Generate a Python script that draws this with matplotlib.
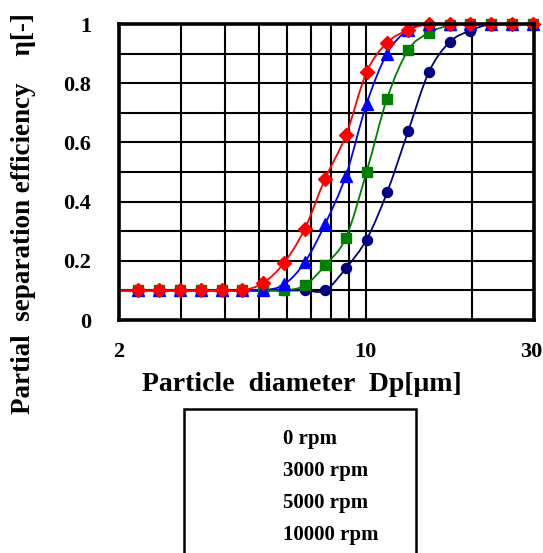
import matplotlib.pyplot as plt
from matplotlib.path import Path
from matplotlib.patches import PathPatch, Rectangle
from matplotlib.transforms import ScaledTranslation
import numpy as np

plt.rcParams['font.family'] = ['Liberation Serif', 'DejaVu Serif']
plt.rcParams['font.weight'] = 'bold'

# particle diameter [um] (first point lies just left of the axis)
dp = [1.98, 2.27, 2.60, 2.98, 3.41, 3.91, 4.47, 5.12, 5.87, 6.72, 7.68,
      8.79, 10.06, 11.5, 13.2, 15.1, 17.3, 19.8, 22.7, 26.0, 29.8]

labels = ['0 rpm', '3000 rpm', '5000 rpm', '10000 rpm']

eta_0 = [0.1, 0.1, 0.1, 0.1, 0.1, 0.1, 0.1, 0.1, 0.1, 0.1, 0.1,
         0.175, 0.272, 0.431, 0.638, 0.837, 0.939, 0.978, 1.0, 1.0, 1.0]
eta_3000 = [0.1, 0.1, 0.1, 0.1, 0.1, 0.1, 0.1, 0.1, 0.1, 0.117, 0.185,
            0.278, 0.5, 0.748, 0.912, 0.97, 0.995, 1.0, 1.0, 1.0, 1.0]
eta_5000 = [0.1, 0.1, 0.1, 0.1, 0.1, 0.1, 0.1, 0.1, 0.12, 0.195, 0.325,
            0.488, 0.73, 0.90, 0.98, 1.0, 1.0, 1.0, 1.0, 1.0, 1.0]
eta_10000 = [0.1, 0.1, 0.1, 0.1, 0.1, 0.1, 0.1, 0.125, 0.193, 0.308, 0.478,
             0.624, 0.837, 0.937, 0.98, 1.0, 1.0, 1.0, 1.0, 1.0, 1.0]

series = [eta_0, eta_3000, eta_5000, eta_10000]
colors = ['#000080', '#008000', '#0000FF', '#FF0000']
markers = ['o', 's', '^', 'D']
msizes = [7.2, 6.8, 8.0, 7.0]


def smooth_path(x, y):
    # excel-like smoothed line: cubic bezier through the points (in log-x space)
    lx = np.log10(x)
    y = np.asarray(y, float)
    n = len(lx)
    verts = [(x[0], y[0])]
    codes = [Path.MOVETO]
    for i in range(n - 1):
        i0 = max(i - 1, 0)
        i3 = min(i + 2, n - 1)
        c1 = (lx[i] + (lx[i + 1] - lx[i0]) / 6, y[i] + (y[i + 1] - y[i0]) / 6)
        c2 = (lx[i + 1] - (lx[i3] - lx[i]) / 6, y[i + 1] - (y[i3] - y[i]) / 6)
        verts += [(10 ** c1[0], c1[1]), (10 ** c2[0], c2[1]), (x[i + 1], y[i + 1])]
        codes += [Path.CURVE4] * 3
    return Path(verts, codes)


fig = plt.figure(figsize=(5.43, 5.53), dpi=100)
ax = fig.add_axes([0.2192, 0.4213, 0.7642, 0.5353])
ax.set_xscale('log')

handles = []
for eta, c, m, ms, lab in zip(series, colors, markers, msizes, labels):
    ax.add_patch(PathPatch(smooth_path(dp, eta), fill=False, edgecolor=c, lw=1.3, zorder=3))
    h, = ax.plot(dp[1:], eta[1:], ls='none', marker=m, ms=ms, color=c,
                 mec=c, zorder=4, label=lab, clip_on=False)
    handles.append(h)

ax.set_xlim(2, 30)
ax.set_ylim(0, 1)

xt = [2, 3, 4, 5, 6, 7, 8, 9, 10, 20, 30]
ax.set_xticks(xt)
ax.set_xticklabels(['2', '', '', '', '', '', '', '', '10', '', '30'])
ax.minorticks_off()
yt = [0, 0.1, 0.2, 0.3, 0.4, 0.5, 0.6, 0.7, 0.8, 0.9, 1.0]
ax.set_yticks(yt)
ax.set_yticklabels(['0', '', '0.2', '', '0.4', '', '0.6', '', '0.8', '', '1'])
ax.tick_params(axis='both', length=0, labelsize=16)
ax.tick_params(axis='x', pad=16)
ax.tick_params(axis='y', pad=20)
ax.grid(True, color='black', lw=1.5)
ax.set_axisbelow(True)
for s in ax.spines.values():
    s.set_linewidth(2.6)
    s.set_zorder(5)

# keep the "30" label inside the picture
last = ax.get_xticklabels()[-1]
last.set_transform(last.get_transform() + ScaledTranslation(-3 / 100, 0, fig.dpi_scale_trans))

ax.set_xlabel('Particle  diameter  Dp[μm]', fontsize=20, fontweight='bold')
ax.xaxis.set_label_coords(0.44, -0.175)
ax.set_ylabel('Partial  separation efficiency    η[-]', fontsize=19.5, fontweight='bold')
ax.yaxis.set_label_coords(-0.2, 0.36)

# legend box (extends past bottom of the figure)
fig.add_artist(Rectangle((184 / 543, -0.05), 232 / 543, 1 - 409 / 553 + 0.05,
                         transform=fig.transFigure, fill=False, ec='black', lw=1.8))
leg = fig.legend(handles, labels, loc='upper left', bbox_to_anchor=(283 / 543, 1 - 429 / 553),
                 frameon=False, handlelength=0, handletextpad=0, borderpad=0,
                 borderaxespad=0, labelspacing=0.58, prop={'size': 15, 'weight': 'bold'})
for h in leg.legend_handles:
    h.set_visible(False)

fig.savefig('out.png', dpi=100)
